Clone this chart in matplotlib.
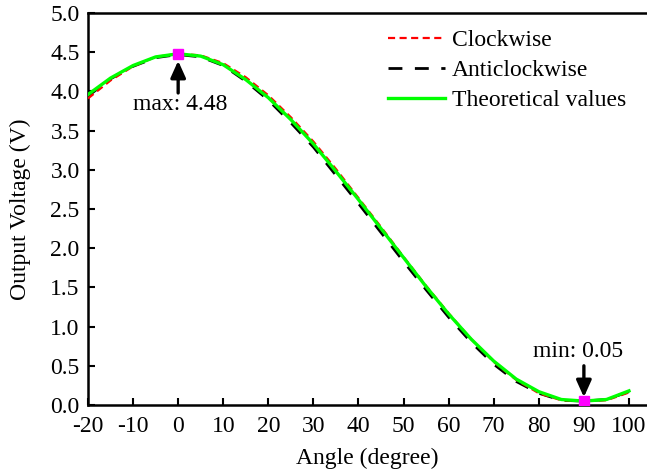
import matplotlib
matplotlib.use("Agg")
import matplotlib.pyplot as plt

angle = [-20, -15, -10, -5, 0, 5, 10, 15, 20, 25, 30, 35, 40, 45, 50, 55, 60, 65, 70, 75, 80, 85, 90, 95, 100]
theoretical = [3.96, 4.17, 4.33, 4.44, 4.48, 4.45, 4.34, 4.15, 3.92, 3.64, 3.33, 2.98, 2.62, 2.25, 1.88, 1.51, 1.16, 0.84, 0.56, 0.33, 0.17, 0.07, 0.05, 0.07, 0.18]
clockwise = [3.91, 4.14, 4.32, 4.44, 4.48, 4.46, 4.36, 4.18, 3.95, 3.67, 3.36, 3.01, 2.64, 2.27, 1.89, 1.52, 1.17, 0.84, 0.55, 0.32, 0.15, 0.06, 0.05, 0.06, 0.16]
anticlockwise = [3.94, 4.16, 4.32, 4.43, 4.47, 4.44, 4.33, 4.13, 3.89, 3.60, 3.29, 2.93, 2.57, 2.20, 1.83, 1.47, 1.12, 0.80, 0.52, 0.30, 0.15, 0.06, 0.05, 0.07, 0.17]
xticks = [-20, -10, 0, 10, 20, 30, 40, 50, 60, 70, 80, 90, 100]
yticks = [0.0, 0.5, 1.0, 1.5, 2.0, 2.5, 3.0, 3.5, 4.0, 4.5, 5.0]
max_point = (0, 4.48)
min_point = (90, 0.05)

plt.rcParams['font.family'] = ['Liberation Serif', 'DejaVu Serif']
FS = 17

fig = plt.figure(figsize=(6.47, 4.74), dpi=100)
ax = fig.add_axes([88/647, 69/474, 559/647, 392/474])

ax.plot(angle, clockwise, color='red', lw=1.6, linestyle=(0, (3.2, 2.0)), label='Clockwise', zorder=3)
ax.plot(angle, anticlockwise, color='black', lw=2.0, linestyle=(0, (5, 4.5)), label='Anticlockwise', zorder=2)
ax.plot(angle, theoretical, color='#00ff00', lw=2.4, label='Theoretical values', zorder=4)

ax.plot([max_point[0], min_point[0]], [max_point[1], min_point[1]], 's', color='magenta',
        markersize=7.5, zorder=6, linestyle='none')

arrow = dict(arrowstyle='-|>,head_width=0.45,head_length=1.0', color='black', lw=2.4,
             shrinkA=0, shrinkB=0)
ax.annotate('', xy=(max_point[0], 4.39), xytext=(max_point[0], 3.98), arrowprops=arrow, zorder=7)
ax.text(max_point[0] + 0.4, 3.83, 'max: 4.48', ha='center', va='center', fontsize=FS)
ax.annotate('', xy=(min_point[0], 0.10), xytext=(min_point[0], 0.50), arrowprops=arrow, zorder=7)
ax.text(min_point[0] - 1.4, 0.68, 'min: 0.05', ha='center', va='center', fontsize=FS)

ax.set_xlim(-20, 104)
ax.set_ylim(0, 5)
ax.set_xticks(xticks)
ax.set_xticklabels([str(t) for t in xticks])
ax.set_yticks(yticks)
ax.set_yticklabels([f'{t:.1f}' for t in yticks])
ax.tick_params(direction='in', length=5, width=1.5, labelsize=FS)
ax.tick_params(axis='x', pad=8)
ax.tick_params(axis='y', pad=6)
for s in ['left', 'bottom', 'top']:
    ax.spines[s].set_linewidth(1.8)
ax.spines['right'].set_visible(False)

ax.set_xlabel('Angle (degree)', fontsize=FS, labelpad=8)
ax.set_ylabel('Output Voltage (V)', fontsize=FS, labelpad=14)

leg = ax.legend(loc='upper left', bbox_to_anchor=(0.507, 1.0), frameon=False,
                handlelength=2.4, handletextpad=0.3, labelspacing=0.36, borderpad=0.2, fontsize=FS)

fig.savefig('out.png', dpi=100)
